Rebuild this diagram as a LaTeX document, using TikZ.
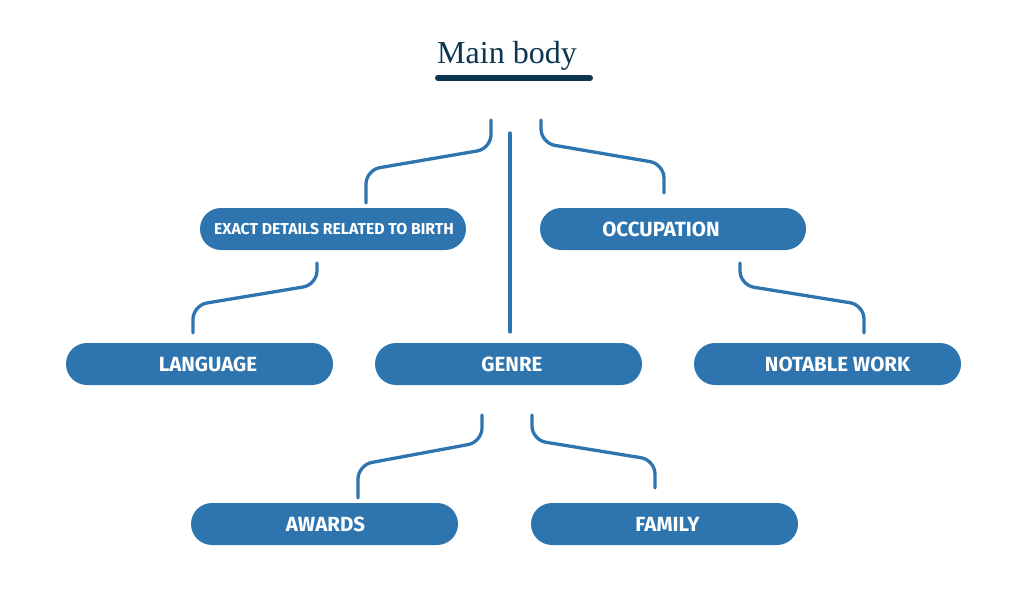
\documentclass[tikz,border=0pt]{standalone}
\usepackage{fontspec}
\setmainfont{Liberation Serif}
\newfontfamily\lblfont{Fira Sans}
\definecolor{pillblue}{HTML}{2E75B0}
\definecolor{navy}{HTML}{0E3550}
\tikzset{
  pill/.style={fill=pillblue, draw=none, rounded corners=21pt, minimum width=267pt, minimum height=42pt, inner sep=0pt},
  lbl/.style={text=white, font=\lblfont\bfseries\fontsize{20.5}{20.5}\selectfont, inner sep=0pt},
  smalllbl/.style={text=white, font=\lblfont\bfseries\fontsize{15.8}{15.8}\selectfont, inner sep=0pt},
  conn/.style={draw=pillblue, line width=3.3pt, rounded corners=14pt, line cap=round}
}
\begin{document}
\begin{tikzpicture}[x=1pt,y=-1pt]
\useasboundingbox (0,0) rectangle (1024,604);
% title
\node[text=navy, font=\fontsize{32}{32}\selectfont, inner sep=0pt, anchor=base] (title) at (507,64) {Main body};
\draw[navy, line width=6pt, line cap=round] (438,78) -- (590,78);
% boxes
\node[pill, minimum width=266pt] (birth) at (333,229) {};
\node[smalllbl] at ([xshift=1pt]birth.center) {EXACT DETAILS RELATED TO BIRTH};
\node[pill, minimum width=266pt] (occ) at (673,229) {};
\node[lbl] at ([xshift=-12pt]occ.center) {OCCUPATION};
\node[pill] (lang) at (199.5,364) {};
\node[lbl] at ([xshift=8.5pt]lang.center) {LANGUAGE};
\node[pill] (genre) at (508.5,364) {};
\node[lbl] at ([xshift=3.5pt]genre.center) {GENRE};
\node[pill] (notable) at (827.5,364) {};
\node[lbl] at ([xshift=10pt]notable.center) {NOTABLE WORK};
\node[pill] (awards) at (324.5,524) {};
\node[lbl] at ([xshift=1pt]awards.center) {AWARDS};
\node[pill] (family) at (664.5,524) {};
\node[lbl] at ([xshift=3pt]family.center) {FAMILY};
% connector end coordinates
\coordinate (tL) at (491,120);
\coordinate (tC) at (510,133);
\coordinate (tR) at (541,120);
\coordinate (bT) at (366,203);
\coordinate (gT) at (510,332);
\coordinate (oT) at (664,193);
\coordinate (bB) at (317,263);
\coordinate (lT) at (193,333);
\coordinate (oB) at (740,263);
\coordinate (nT) at (864,333);
\coordinate (gBL) at (482,415);
\coordinate (aT) at (358,498);
\coordinate (gBR) at (532,415);
\coordinate (fT) at (655,488);
% connectors
\draw[conn] (tL) -- (tL |- 0,148.6) -- (bT |- 0,170) -- (bT);
\draw[conn] (tC) -- (gT);
\draw[conn] (tR) -- (tR |- 0,143) -- (oT |- 0,164) -- (oT);
\draw[conn] (bB) -- (bB |- 0,284.7) -- (lT |- 0,305.3) -- (lT);
\draw[conn] (oB) -- (oB |- 0,285) -- (nT |- 0,305) -- (nT);
\draw[conn] (gBL) -- (gBL |- 0,442) -- (aT |- 0,465) -- (aT);
\draw[conn] (gBR) -- (gBR |- 0,440) -- (fT |- 0,460) -- (fT);
\end{tikzpicture}
\end{document}
